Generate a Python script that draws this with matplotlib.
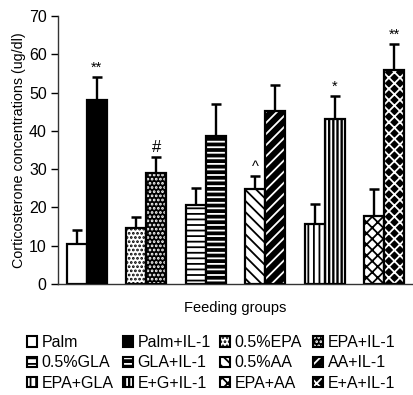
import matplotlib
matplotlib.use("Agg")
import matplotlib.pyplot as plt
from matplotlib.patches import Patch
from matplotlib.legend_handler import HandlerTuple
import numpy as np

plt.rcParams['font.family'] = ['Liberation Sans', 'DejaVu Sans']
plt.rcParams['hatch.linewidth'] = 1.3

groups = ["Palm", "EPA", "GLA", "AA", "EPA+GLA", "EPA+AA"]
labels_ctrl = ["Palm", "0.5%EPA", "0.5%GLA", "0.5%AA", "EPA+GLA", "EPA+AA"]
labels_il1 = ["Palm+IL-1", "EPA+IL-1", "GLA+IL-1", "AA+IL-1", "E+G+IL-1", "E+A+IL-1"]
ctrl_vals = [10.5, 14.6, 20.7, 24.8, 15.6, 17.9]
ctrl_err = [3.7, 3.0, 4.3, 3.5, 5.2, 6.9]
il1_vals = [48.0, 29.1, 38.7, 45.2, 43.2, 56.0]
il1_err = [6.1, 4.2, 8.3, 6.7, 6.0, 6.8]
ctrl_marks = ["", "", "", "^", "", ""]
il1_marks = ["**", "#", "", "", "*", "**"]
hatch_ctrl = ["", "....", "---", "\\\\\\", "|||", "xxx"]
hatch_il1 = ["", "....", "---", "///", "||||", "xxx"]

fig = plt.figure(figsize=(4.13, 3.95), dpi=100)
ax = fig.add_axes([0.140, 0.281, 0.858, 0.678])

x = np.arange(len(groups))
w = 0.335
xc = x - w / 2
xi = x + w / 2

for i in range(len(groups)):
    ax.bar(xc[i], ctrl_vals[i], w, facecolor="white", edgecolor="black",
           hatch=hatch_ctrl[i], linewidth=1.6, zorder=2)
    ax.bar(xi[i], il1_vals[i], w, facecolor="black", edgecolor="white",
           hatch=hatch_il1[i], linewidth=0, zorder=2)
    ax.bar(xi[i], il1_vals[i], w, fill=False, edgecolor="black",
           linewidth=1.6, zorder=3)

ax.errorbar(xc, ctrl_vals, yerr=[np.zeros(6), ctrl_err], fmt="none",
            ecolor="black", elinewidth=1.7, capsize=3.5, capthick=1.8, zorder=1)
ax.errorbar(xi, il1_vals, yerr=[np.zeros(6), il1_err], fmt="none",
            ecolor="black", elinewidth=1.7, capsize=3.5, capthick=1.8, zorder=1)

for i in range(len(groups)):
    if ctrl_marks[i]:
        ax.text(xc[i], ctrl_vals[i] + ctrl_err[i] + 0.5, ctrl_marks[i],
                ha="center", va="bottom", fontsize=10.5)
    if il1_marks[i]:
        ax.text(xi[i], il1_vals[i] + il1_err[i] + 0.5, il1_marks[i],
                ha="center", va="bottom",
                fontsize=10.5 if il1_marks[i] != "#" else 12)

ax.set_xlim(-0.49, 5.47)
ax.set_ylim(0, 70)
ax.set_yticks(range(0, 71, 10))
ax.tick_params(axis="y", labelsize=11.5, length=5, width=1, direction="out", pad=3)
ax.set_xticks([])
for s in ["top", "right"]:
    ax.spines[s].set_visible(False)
for s in ["left", "bottom"]:
    ax.spines[s].set_linewidth(1.0)
    ax.spines[s].set_color("#333333")
ax.set_ylabel("Corticosterone concentrations (ug/dl)", fontsize=10.3, labelpad=2)
ax.set_xlabel("Feeding groups", fontsize=10.5, labelpad=12)

# legend: 4 columns at fixed positions, 3 rows each (row-wise reading order)
entries_h = []
entries_l = []
for i in range(len(groups)):
    entries_h.append(Patch(facecolor="white", edgecolor="black",
                           hatch=hatch_ctrl[i], linewidth=1.5))
    entries_l.append(labels_ctrl[i])
    entries_h.append((Patch(facecolor="black", edgecolor="white",
                            hatch=hatch_il1[i], linewidth=0),
                      Patch(fill=False, edgecolor="black", linewidth=1.5)))
    entries_l.append(labels_il1[i])

ncol = 4
col_x = [27, 123, 220, 313]
for c in range(ncol):
    idx = [r * ncol + c for r in range(3)]
    lg = fig.legend([entries_h[k] for k in idx], [entries_l[k] for k in idx],
                    loc="upper left", bbox_to_anchor=(col_x[c] / 413, 1 - 335 / 395),
                    ncol=1, frameon=False, fontsize=11.5,
                    handlelength=0.62, handleheight=0.62, handletextpad=0.3,
                    labelspacing=0.34, borderpad=0, borderaxespad=0,
                    handler_map={tuple: HandlerTuple(ndivide=1, pad=0)})

fig.savefig("out.png", dpi=100)
